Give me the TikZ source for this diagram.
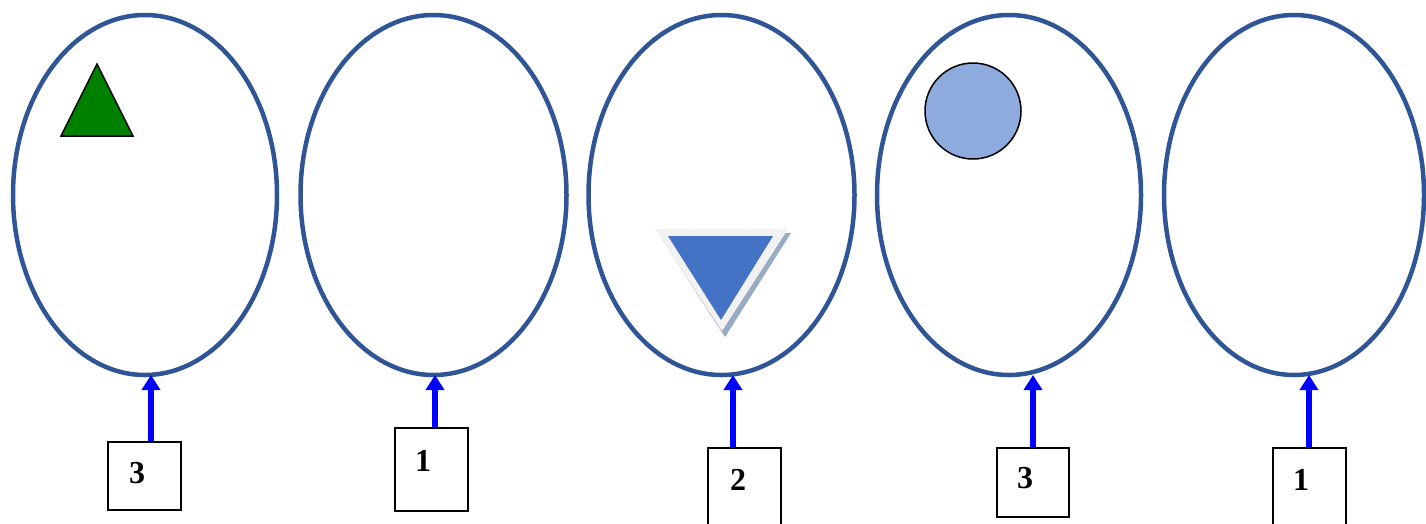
\documentclass[tikz,border=0pt]{standalone}
\usepackage{fontspec}
\setmainfont{Liberation Serif}
\usetikzlibrary{shapes.geometric,arrows.meta}
\definecolor{ellblue}{HTML}{2F5597}
\definecolor{trigreen}{HTML}{008000}
\definecolor{triblue}{HTML}{4472C4}
\definecolor{trishadow}{HTML}{97ABC2}
\definecolor{triborder}{HTML}{F2F2F2}
\definecolor{circblue}{HTML}{8FAADC}
\tikzset{
  cell/.style={ellipse, draw=ellblue, line width=4.5pt, minimum width=264pt, minimum height=360pt, inner sep=0pt, outer sep=0pt},
  numbox/.style={rectangle, draw=black, line width=1.5pt, fill=white, inner sep=0pt, outer sep=0pt, anchor=north west},
  numtext/.style={font=\fontsize{32pt}{32pt}\selectfont\bfseries, inner sep=0pt},
  uparrow/.style={draw=blue, line width=6pt, -{Triangle[width=18pt,length=15pt]}, shorten <=0.75pt}
}
\begin{document}
\begin{tikzpicture}[x=1pt,y=-1pt]
\useasboundingbox (0,0) rectangle (1426,523);
% ellipses
\node[cell] (e1) at (145,195) {};
\node[cell, minimum width=266pt] (e2) at (433.5,195) {};
\node[cell, minimum width=266pt] (e3) at (721.5,195) {};
\node[cell] (e4) at (1009,195) {};
\node[cell, minimum width=260pt] (e5) at (1294,195) {};
% shapes inside
\draw[fill=trigreen, draw=black, line width=1.5pt, line join=miter] (97,64) -- (61,136) -- (133,136) -- cycle;
\fill[trishadow] (658,233) -- (791,233) -- (725,337) -- cycle;
\fill[triborder] (655,229) -- (788,229) -- (722,331) -- cycle;
\fill[triblue] (668,236) -- (773,236) -- (721,320) -- cycle;
\node[circle, draw=black, line width=1.5pt, fill=circblue, minimum size=96pt, inner sep=0pt] (c1) at (973,111) {};
% boxes
\node[numbox, minimum width=73pt, minimum height=68pt] (b1) at (108,442) {};
\node[numbox, minimum width=73pt, minimum height=83pt] (b2) at (395,428) {};
\node[numbox, minimum width=73pt, minimum height=90pt] (b3) at (708,448) {};
\node[numbox, minimum width=72pt, minimum height=69pt] (b4) at (997,448) {};
\node[numbox, minimum width=73pt, minimum height=90pt] (b5) at (1273,448) {};
% labels
\node[numtext] (t1) at (137,473) {3};
\node[numtext] (t2) at (423,461) {1};
\node[numtext] (t3) at (738,480) {2};
\node[numtext] (t4) at (1025,478) {3};
\node[numtext] (t5) at (1301,480) {1};
% arrows
\draw[uparrow] (b1.north -| 151,0) -- (e1.south -| 151,0);
\draw[uparrow] (b2.north -| 435,0) -- (e2.south -| 435,0);
\draw[uparrow] (b3.north -| 733,0) -- (e3.south -| 733,0);
\draw[uparrow] (b4.north -| 1033,0) -- (e4.south -| 1033,0);
\draw[uparrow] (b5.north -| 1309,0) -- (e5.south -| 1309,0);
\end{tikzpicture}
\end{document}
